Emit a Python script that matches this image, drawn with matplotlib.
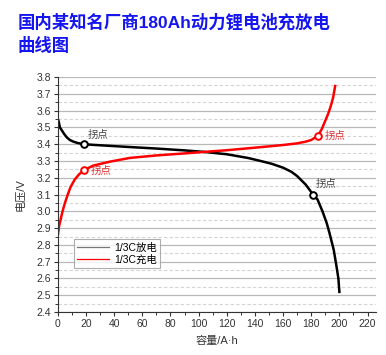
import matplotlib
matplotlib.use("Agg")
import matplotlib.pyplot as plt
from matplotlib.ticker import MultipleLocator

# Data
dis_cap = [0, 0.7, 1.4, 2.6, 4.5, 6.4, 8.5, 11, 14, 18.6, 25, 35, 51, 70, 90, 104, 120,
           135, 145, 152, 160, 166, 170, 176, 181.5, 184.5, 188, 191, 193, 196, 198, 199.3, 200]
dis_v = [3.55, 3.53, 3.50, 3.485, 3.46, 3.44, 3.425, 3.415, 3.407, 3.40, 3.396, 3.391,
         3.383, 3.374, 3.363, 3.354, 3.340, 3.318, 3.298, 3.283, 3.260, 3.235, 3.21, 3.16,
         3.098, 3.07, 3.00, 2.93, 2.87, 2.77, 2.67, 2.60, 2.52]

chg_cap = [0, 0.8, 1.9, 3.3, 5, 7, 9, 12, 15, 18.6, 25, 37, 51, 70, 90, 104, 120, 145,
           160, 170, 176, 180, 184.8, 187.5, 190, 192, 194, 195.6, 197]
chg_v = [2.86, 2.91, 2.95, 3.00, 3.05, 3.10, 3.145, 3.19, 3.22, 3.246, 3.272, 3.296,
         3.318, 3.333, 3.345, 3.354, 3.364, 3.383, 3.395, 3.405, 3.415, 3.425, 3.45,
         3.49, 3.54, 3.58, 3.63, 3.68, 3.746]

knee_dis = (18.6, 3.40, 181.5, 3.098)
knee_chg = (18.6, 3.246, 184.8, 3.45)

title = "国内某知名厂商180Ah动力锂电池充放电\n曲线图"
legend_labels = ["1/3C放电", "1/3C充电"]
knee_label = "拐点"
xlabel = "容量/A·h"
ylabel = "电压/V"

plt.rcParams['font.family'] = ['Liberation Sans', 'Noto Sans CJK SC', 'DejaVu Sans']

fig = plt.figure(figsize=(3.86, 3.55), dpi=100)
ax = fig.add_axes([0.150, 0.121, 0.824, 0.662])

ax.set_xlim(0, 226)
ax.set_ylim(2.4, 3.8)

ax.yaxis.set_major_locator(MultipleLocator(0.1))
ax.yaxis.set_minor_locator(MultipleLocator(0.05))
ax.xaxis.set_major_locator(MultipleLocator(20))
ax.xaxis.set_minor_locator(MultipleLocator(10))

ax.grid(True, axis='y', which='major', color='#b8b8b8', linewidth=0.9, linestyle='-')
ax.grid(True, axis='y', which='minor', color='#d4d4d4', linewidth=0.8, linestyle=(0, (3, 2)))
ax.set_axisbelow(True)

for s in ['top', 'right']:
    ax.spines[s].set_visible(False)
for s in ['left', 'bottom']:
    ax.spines[s].set_color('#333333')
    ax.spines[s].set_linewidth(0.8)

ax.tick_params(axis='both', which='major', direction='out', length=3, width=0.8,
               labelsize=7.5, colors='#333333', pad=2)
ax.tick_params(axis='both', which='minor', direction='out', length=2, width=0.7,
               colors='#333333')

ax.plot(dis_cap, dis_v, color='black', linewidth=1.8, label=legend_labels[0])
ax.plot(chg_cap, chg_v, color='#ff0000', linewidth=1.8, label=legend_labels[1])

ax.plot([knee_dis[0], knee_dis[2]], [knee_dis[1], knee_dis[3]], linestyle='none',
        marker='o', markersize=4.8, markerfacecolor='white', markeredgecolor='black',
        markeredgewidth=1.4)
ax.plot([knee_chg[0], knee_chg[2]], [knee_chg[1], knee_chg[3]], linestyle='none',
        marker='o', markersize=4.8, markerfacecolor='white', markeredgecolor='#ff0000',
        markeredgewidth=1.4)

ann_font = ['Noto Sans CJK SC', 'DejaVu Sans']
ax.annotate(knee_label, (knee_dis[0], knee_dis[1]), xytext=(3, 3), textcoords='offset points',
            fontsize=7.5, color='#444444', family=ann_font, va='bottom', ha='left')
ax.annotate(knee_label, (knee_chg[0], knee_chg[1]), xytext=(5, -1), textcoords='offset points',
            fontsize=7.5, color='#e03030', family=ann_font, va='center', ha='left')
ax.annotate(knee_label, (knee_chg[2], knee_chg[3]), xytext=(5, 0), textcoords='offset points',
            fontsize=7.5, color='#e03030', family=ann_font, va='center', ha='left')
ax.annotate(knee_label, (knee_dis[2], knee_dis[3]), xytext=(2, 4),
            textcoords='offset points', fontsize=7.5, color='#444444', family=ann_font,
            va='bottom', ha='left')

leg = ax.legend(loc='lower left', bbox_to_anchor=(0.035, 0.165), fontsize=7.5,
                frameon=True, fancybox=False, edgecolor='#999999', handlelength=3.0,
                handletextpad=0.5, borderpad=0.3, labelspacing=0.2)
leg.get_frame().set_linewidth(0.8)
for h in leg.get_lines():
    h.set_linewidth(0.9)
leg.get_lines()[0].set_color('#777777')

ax.set_xlabel(xlabel, fontsize=8, color='#333333',
              family=['Liberation Sans', 'Noto Sans CJK SC'], labelpad=5)
ax.set_ylabel(ylabel, fontsize=8, color='#333333',
              family=['Liberation Sans', 'Noto Sans CJK SC'], labelpad=8)

fig.text(0.045, 0.962, title, fontsize=12.5, fontweight='bold', color='#1515f0',
         family=['Liberation Sans', 'Noto Sans CJK SC'], va='top', ha='left',
         linespacing=1.4)

fig.savefig('out.png', dpi=100)
